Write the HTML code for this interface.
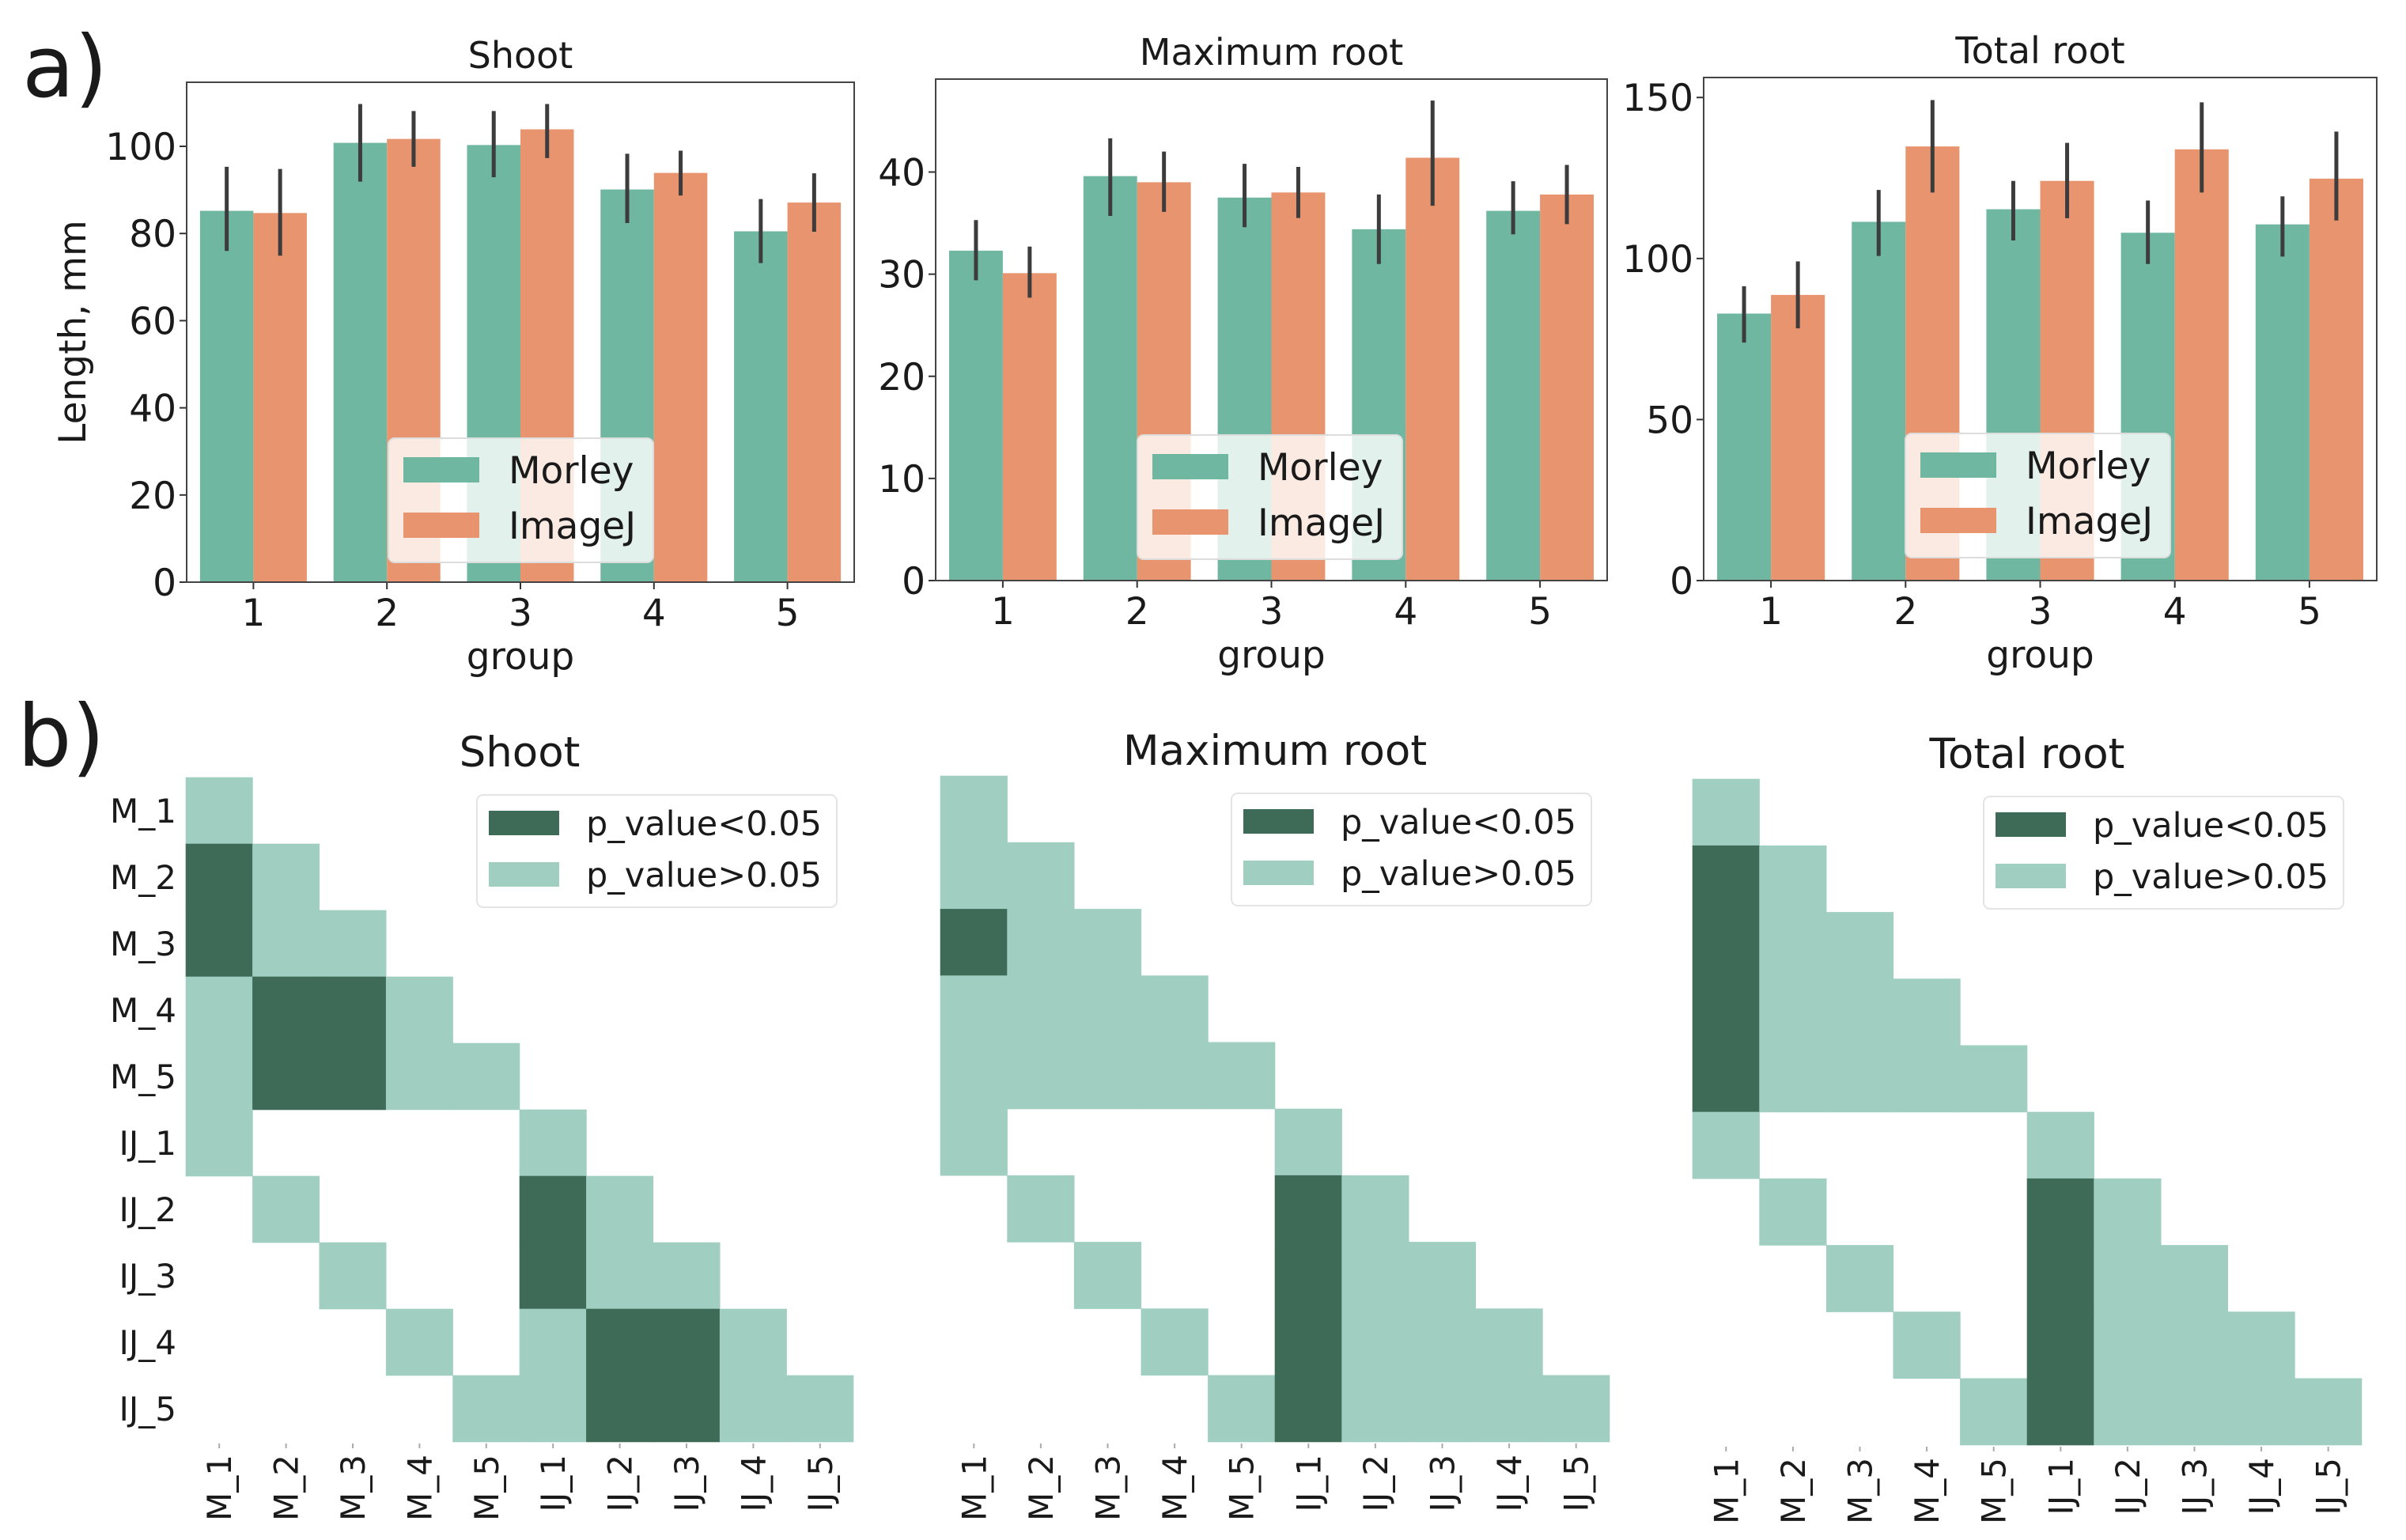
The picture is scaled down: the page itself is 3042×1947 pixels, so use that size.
<!DOCTYPE html>
<html>
<head>
<meta charset="utf-8">
<style>
html,body{margin:0;padding:0;background:#fff;}
svg{display:block;}
text{font-family:"DejaVu Sans","Liberation Sans",sans-serif;fill:#1a1a1a;}
</style>
</head>
<body>
<svg id="fig" width="3042" height="1947" viewBox="0 0 3042 1947" xmlns="http://www.w3.org/2000/svg">
<rect x="0" y="0" width="3042" height="1947" fill="#fff"/>
<text x="28" y="122" font-size="108">a)</text>
<text x="22" y="968" font-size="108">b)</text>
<g id="bars"></g>
<g id="heat"></g>
</svg>
<script>
// ---- Bar chart data ----
const groups = ["1","2","3","4","5"];
const shootMorley = [85.2, 100.8, 100.3, 90.1, 80.5];
const shootMorleyLo = [76, 91.9, 92.9, 82.4, 73.2];
const shootMorleyHi = [95.3, 109.7, 108.1, 98.3, 87.9];
const shootImageJ = [84.7, 101.7, 103.9, 93.9, 87.1];
const shootImageJLo = [74.9, 95.3, 97.3, 88.7, 80.4];
const shootImageJHi = [94.8, 108.1, 109.7, 99, 93.8];
const shootTicks = [0, 20, 40, 60, 80, 100];

const maxMorley = [32.3, 39.6, 37.5, 34.4, 36.2];
const maxMorleyLo = [29.4, 35.7, 34.6, 31, 33.9];
const maxMorleyHi = [35.3, 43.3, 40.8, 37.8, 39.1];
const maxImageJ = [30.1, 39, 38, 41.4, 37.8];
const maxImageJLo = [27.7, 36.1, 35.5, 36.7, 34.9];
const maxImageJHi = [32.7, 42, 40.5, 47, 40.7];
const maxTicks = [0, 10, 20, 30, 40];

const totMorley = [82.9, 111.4, 115.3, 108, 110.6];
const totMorleyLo = [73.9, 100.8, 105.6, 98.3, 100.6];
const totMorleyHi = [91.4, 121.3, 124.1, 118, 119.3];
const totImageJ = [88.7, 134.8, 124.1, 133.9, 124.8];
const totImageJLo = [78.3, 120.5, 112.5, 120.5, 111.8];
const totImageJHi = [99.1, 149.2, 135.9, 148.5, 139.4];
const totTicks = [0, 50, 100, 150];

// ---- Heatmap data: 1 = p<0.05, 0 = p>0.05, null = blank ----
const heatLabels = ["M_1","M_2","M_3","M_4","M_5","IJ_1","IJ_2","IJ_3","IJ_4","IJ_5"];
const _ = null;
const shootSig = [
 [0,_,_,_,_,_,_,_,_,_],
 [1,0,_,_,_,_,_,_,_,_],
 [1,0,0,_,_,_,_,_,_,_],
 [0,1,1,0,_,_,_,_,_,_],
 [0,1,1,0,0,_,_,_,_,_],
 [0,_,_,_,_,0,_,_,_,_],
 [_,0,_,_,_,1,0,_,_,_],
 [_,_,0,_,_,1,0,0,_,_],
 [_,_,_,0,_,0,1,1,0,_],
 [_,_,_,_,0,0,1,1,0,0]];
const maxSig = [
 [0,_,_,_,_,_,_,_,_,_],
 [0,0,_,_,_,_,_,_,_,_],
 [1,0,0,_,_,_,_,_,_,_],
 [0,0,0,0,_,_,_,_,_,_],
 [0,0,0,0,0,_,_,_,_,_],
 [0,_,_,_,_,0,_,_,_,_],
 [_,0,_,_,_,1,0,_,_,_],
 [_,_,0,_,_,1,0,0,_,_],
 [_,_,_,0,_,1,0,0,0,_],
 [_,_,_,_,0,1,0,0,0,0]];
const totSig = [
 [0,_,_,_,_,_,_,_,_,_],
 [1,0,_,_,_,_,_,_,_,_],
 [1,0,0,_,_,_,_,_,_,_],
 [1,0,0,0,_,_,_,_,_,_],
 [1,0,0,0,0,_,_,_,_,_],
 [0,_,_,_,_,0,_,_,_,_],
 [_,0,_,_,_,1,0,_,_,_],
 [_,_,0,_,_,1,0,0,_,_],
 [_,_,_,0,_,1,0,0,0,_],
 [_,_,_,_,0,1,0,0,0,0]];

const NS = "http://www.w3.org/2000/svg";
function mk(tag, attrs, parent){
  const e = document.createElementNS(NS, tag);
  for (const k in attrs) e.setAttribute(k, attrs[k]);
  parent.appendChild(e);
  return e;
}
const C_M = "#70b7a1", C_I = "#e8946f", C_ERR = "#3c3c3c";
const barsG = document.getElementById("bars");

function barPanel(key, title, L, R, T, B, ymax, ticks, mv, mlo, mhi, iv, ilo, ihi, showYLabel){
  const g = mk("g", {}, barsG);
  
  
  const n = groups.length;
  const step = (R - L) / n;
  const xc = i => L + step * (i + 0.5);
  const y = v => B - (B - T) * v / ymax;
  const bw = step * 0.4;
  for (let i = 0; i < n; i++){
    const r1 = mk("rect", {x: xc(i) - bw, y: y(mv[i]), width: bw, height: B - y(mv[i]), fill: C_M}, g);
    
    
    const r2 = mk("rect", {x: xc(i), y: y(iv[i]), width: bw, height: B - y(iv[i]), fill: C_I}, g);
    
    
    const e1 = mk("line", {x1: xc(i) - bw/2, x2: xc(i) - bw/2, y1: y(mlo[i]), y2: y(mhi[i]), stroke: C_ERR, "stroke-width": 5}, g);
    
    
    const e2 = mk("line", {x1: xc(i) + bw/2, x2: xc(i) + bw/2, y1: y(ilo[i]), y2: y(ihi[i]), stroke: C_ERR, "stroke-width": 5}, g);
    
    
    const tk = mk("line", {x1: xc(i), x2: xc(i), y1: B, y2: B + 9, stroke: "#333", "stroke-width": 2}, g);
    
    
    const tl = mk("text", {x: xc(i), y: B + 55, "font-size": 47, "text-anchor": "middle"}, g);
    
    
    tl.textContent = groups[i];
  }
  ticks.forEach(t => {
    const tk = mk("line", {x1: L - 9, x2: L, y1: y(t), y2: y(t), stroke: "#333", "stroke-width": 2}, g);
    
    
    const tl = mk("text", {x: L - 13, y: y(t) + 17, "font-size": 47, "text-anchor": "end"}, g);
    
    
    tl.textContent = t;
  });
  const fr = mk("rect", {x: L, y: T, width: R - L, height: B - T, fill: "none", stroke: "#444", "stroke-width": 2}, g);
  
  
  const tt = mk("text", {x: (L + R)/2, y: T - 18, "font-size": 46, "text-anchor": "middle"}, g);
  
  
  tt.textContent = title;
  const xl = mk("text", {x: (L + R)/2, y: B + 110, "font-size": 47, "text-anchor": "middle"}, g);
  
  
  xl.textContent = "group";
  if (showYLabel){
    const yl = mk("text", {x: 0, y: 0, "font-size": 47, "text-anchor": "middle", transform: "translate(108," + ((T + B)/2) + ") rotate(-90)"}, g);
    
    
    yl.textContent = "Length, mm";
  }
  // legend
  const lx = L + 255, ly = T + 450;
  const lg = mk("g", {}, g);
  
  
  mk("rect", {x: lx, y: ly, width: 335, height: 157, rx: 8, fill: "#fff", "fill-opacity": 0.8, stroke: "#ddd", "stroke-width": 2}, lg);
  const p1 = mk("rect", {x: lx + 19, y: ly + 24, width: 96, height: 32, fill: C_M}, lg);
  
  
  const p2 = mk("rect", {x: lx + 19, y: ly + 94, width: 96, height: 32, fill: C_I}, lg);
  
  
  const t1 = mk("text", {x: lx + 152, y: ly + 57, "font-size": 47}, lg);
  
  
  t1.textContent = "Morley";
  const t2 = mk("text", {x: lx + 152, y: ly + 127, "font-size": 47}, lg);
  
  
  t2.textContent = "ImageJ";
}

barPanel("shoot", "Shoot", 236, 1080, 104, 736, 114.7, shootTicks, shootMorley, shootMorleyLo, shootMorleyHi, shootImageJ, shootImageJLo, shootImageJHi, true);
barPanel("max-root", "Maximum root", 1183, 2032, 100, 734, 49.1, maxTicks, maxMorley, maxMorleyLo, maxMorleyHi, maxImageJ, maxImageJLo, maxImageJHi, false);
barPanel("total-root", "Total root", 2154, 3005, 98, 734, 156.2, totTicks, totMorley, totMorleyLo, totMorleyHi, totImageJ, totImageJLo, totImageJHi, false);

const heatG = document.getElementById("heat");
const H_DARK = "#3e6b57", H_LIGHT = "#a0cfc2";
function heatPanel(key, title, L, T, W, H, sig, showY){
  const g = mk("g", {}, heatG);
  
  
  const n = heatLabels.length;
  const cw = W / n, ch = H / n;
  for (let r = 0; r < n; r++){
    for (let c = 0; c < n; c++){
      const v = sig[r][c];
      if (v === null) continue;
      const cell = mk("rect", {x: L + c*cw - 0.3, y: T + r*ch - 0.3, width: cw + 0.6, height: ch + 0.6, fill: v ? H_DARK : H_LIGHT}, g);
      
      
    }
  }
  for (let i = 0; i < n; i++){
    const cx = L + (i + 0.5)*cw;
    const tk = mk("line", {x1: cx, x2: cx, y1: T + H + 2, y2: T + H + 8, stroke: "#aaa", "stroke-width": 2}, g);
    
    
    const xl = mk("text", {x: 0, y: 0, "font-size": 42, "text-anchor": "end", transform: "translate(" + (cx + 15) + "," + (T + H + 16) + ") rotate(-90)"}, g);
    
    
    xl.textContent = heatLabels[i];
    if (showY){
      const cy = T + (i + 0.5)*ch;
      const yl = mk("text", {x: L - 12, y: cy + 15, "font-size": 42, "text-anchor": "end"}, g);
      
      
      yl.textContent = heatLabels[i];
    }
  }
  const tt = mk("text", {x: L + W/2, y: T - 14, "font-size": 53, "text-anchor": "middle"}, g);
  
  
  tt.textContent = title;
  const lx = L + 368, ly = T + 22;
  const lg = mk("g", {}, g);
  
  
  mk("rect", {x: lx, y: ly, width: 455, height: 142, rx: 8, fill: "#fff", stroke: "#e4e4e4", "stroke-width": 2}, lg);
  const s1 = mk("rect", {x: lx + 15, y: ly + 20, width: 89, height: 31, fill: H_DARK}, lg);
  
  
  const s2 = mk("rect", {x: lx + 15, y: ly + 85, width: 89, height: 31, fill: H_LIGHT}, lg);
  
  
  const t1 = mk("text", {x: lx + 138, y: ly + 51, "font-size": 43}, lg);
  
  
  t1.textContent = "p_value<0.05";
  const t2 = mk("text", {x: lx + 138, y: ly + 116, "font-size": 43}, lg);
  
  
  t2.textContent = "p_value>0.05";
}
heatPanel("shoot", "Shoot", 235, 983, 844, 840, shootSig, true);
heatPanel("max-root", "Maximum root", 1189, 981, 846, 842, maxSig, false);
heatPanel("total-root", "Total root", 2140, 985, 846, 842, totSig, false);
</script>
</body>
</html>
